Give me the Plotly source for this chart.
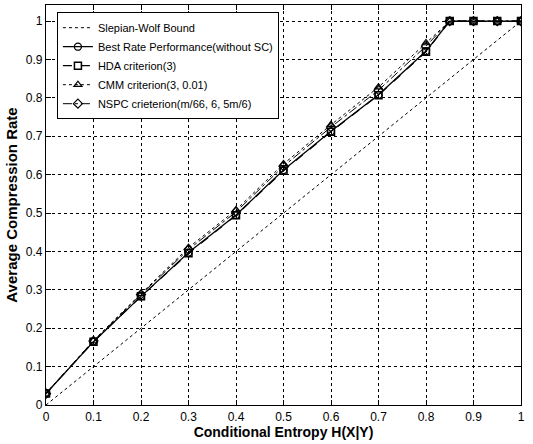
import plotly.graph_objects as go

x = [0, 0.1, 0.2, 0.3, 0.4, 0.5, 0.6, 0.7, 0.8, 0.85, 0.9, 0.95, 1.0]
sw_x = [0, 1]
sw_y = [0, 1]
best = [0.03, 0.165, 0.283, 0.397, 0.495, 0.612, 0.713, 0.808, 0.922, 1, 1, 1, 1]
hda = [0.03, 0.165, 0.283, 0.395, 0.494, 0.610, 0.712, 0.807, 0.920, 1, 1, 1, 1]
cmm = [0.03, 0.168, 0.290, 0.410, 0.508, 0.628, 0.730, 0.828, 0.943, 1, 1, 1, 1]
nspc = [0.03, 0.167, 0.288, 0.405, 0.503, 0.622, 0.724, 0.820, 0.935, 1, 1, 1, 1]
ticks = [0, 0.1, 0.2, 0.3, 0.4, 0.5, 0.6, 0.7, 0.8, 0.9, 1]
tick_text = ["0", "0.1", "0.2", "0.3", "0.4", "0.5", "0.6", "0.7", "0.8", "0.9", "1"]

fig = go.Figure()
fig.add_trace(go.Scatter(x=sw_x, y=sw_y, mode="lines", name="Slepian-Wolf Bound",
                         line=dict(color="black", width=1, dash="dot")))
fig.add_trace(go.Scatter(x=x, y=best, mode="lines+markers", name="Best Rate Performance(without SC)",
                         line=dict(color="black", width=1.3),
                         marker=dict(symbol="circle-open", size=7, color="black", line=dict(width=1.3))))
fig.add_trace(go.Scatter(x=x, y=hda, mode="lines+markers", name="HDA criterion(3)",
                         line=dict(color="black", width=1.2, dash="dash"),
                         marker=dict(symbol="square-open", size=7, color="black", line=dict(width=1.5))))
fig.add_trace(go.Scatter(x=x, y=cmm, mode="lines+markers", name="CMM criterion(3, 0.01)",
                         line=dict(color="black", width=1, dash="dot"),
                         marker=dict(symbol="triangle-up-open", size=7, color="black", line=dict(width=1.2))))
fig.add_trace(go.Scatter(x=x, y=nspc, mode="lines+markers", name="NSPC crieterion(m/66, 6, 5m/6)",
                         line=dict(color="black", width=1, dash="dashdot"),
                         marker=dict(symbol="diamond-open", size=7, color="black", line=dict(width=1.2))))

axis_common = dict(showline=True, linecolor="black", linewidth=1.2, mirror="ticks",
                   ticks="inside", ticklen=5, tickcolor="black",
                   showgrid=True, gridcolor="black", griddash="dot", gridwidth=1,
                   zeroline=False, tickfont=dict(family="Liberation Sans, Arial", size=12, color="black"),
                   tickvals=ticks, ticktext=tick_text)

fig.update_layout(
    width=533, height=444,
    margin=dict(l=46, r=12, t=5, b=39),
    paper_bgcolor="white", plot_bgcolor="white",
    font=dict(family="Liberation Sans, Arial", color="black"),
    xaxis=dict(range=[0, 1], title=dict(text="<b>Conditional Entropy H(X|Y)</b>", standoff=4,
                                         font=dict(size=14)), **axis_common),
    yaxis=dict(range=[0, 1.042], title=dict(text="<b>Average Compression Rate</b>", standoff=4,
                                             font=dict(size=15)), **axis_common),
    legend=dict(x=0.023, y=0.982, xanchor="left", yanchor="top",
                bgcolor="white", bordercolor="black", borderwidth=1,
                font=dict(size=11, family="Liberation Sans, Arial"),
                tracegroupgap=0, itemwidth=30),
    showlegend=True,
)

fig.write_html("out.html")
